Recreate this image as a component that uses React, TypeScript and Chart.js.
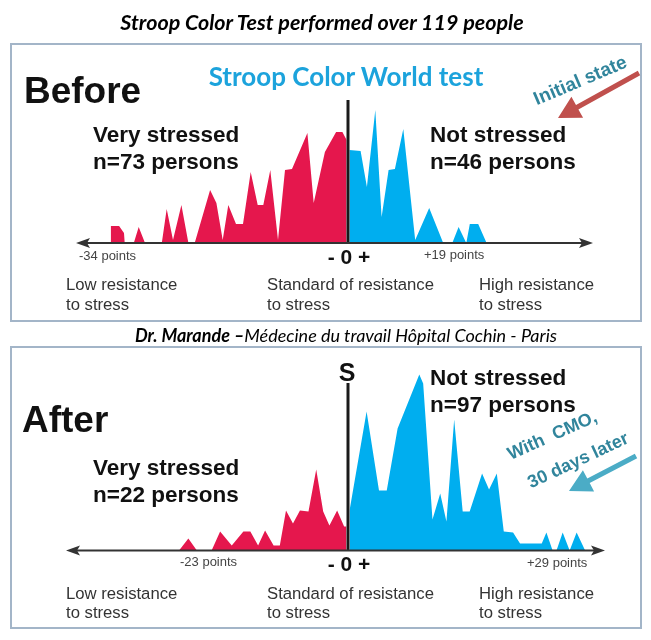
import React, { useEffect, useRef } from "react";
import { Chart, registerables } from "chart.js";

Chart.register(...registerables);

// ---------- DATA (score in points, relative frequency) ----------
// BEFORE (initial state)
const beforeLowScores = [-33.9, -33.9, -32.7, -32.0, -31.9, -30.6, -29.9, -29.0, -26.6, -25.9, -25.0, -23.8, -22.8, -21.9, -19.7, -18.8, -17.9, -17.1, -16.0, -15.0, -13.9, -12.9, -12.1, -11.1, -10.0, -9.0, -8.0, -5.8, -4.9, -3.3, -1.7, -0.8, -0.2, -0.2];
const beforeLowFreq = [0, 1.7, 1.7, 1.0, 0, 0, 1.6, 0, 0, 3.4, 0.3, 3.8, 0, 0, 5.3, 4.0, 0.3, 3.8, 1.9, 1.9, 7.1, 3.8, 3.8, 7.3, 0.3, 7.3, 7.4, 11.0, 4.0, 9.1, 11.1, 11.1, 10.3, 0];
const beforeHighScores = [0.2, 0.2, 1.8, 2.7, 3.9, 4.8, 5.8, 6.7, 7.9, 9.6, 11.6, 13.6, 14.9, 15.8, 16.9, 17.4, 18.6, 19.8];
const beforeHighFreq = [0, 9.3, 9.2, 5.6, 13.3, 2.6, 7.3, 7.4, 11.4, 0.3, 3.5, 0, 0, 1.6, 0, 1.9, 1.9, 0];

// AFTER (with CMO, 30 days later)
const afterLowScores = [-21.8, -20.6, -19.5, -17.6, -16.5, -15.0, -13.5, -12.6, -11.6, -10.7, -9.6, -8.8, -8.0, -7.1, -6.2, -5.1, -4.1, -3.2, -2.4, -1.4, -0.5, -0.2, -0.2];
const afterLowFreq = [0, 1.2, 0, 0, 1.9, 0.5, 1.9, 1.9, 0.5, 2.0, 0.5, 0.5, 4.0, 2.7, 4.0, 3.9, 8.1, 3.9, 2.5, 4.0, 2.4, 2.4, 0];
const afterHighScores = [0.2, 0.2, 2.4, 4.0, 5.0, 6.4, 9.2, 9.7, 10.9, 11.9, 12.7, 13.7, 14.8, 15.7, 17.3, 18.2, 19.2, 20.1, 21.3, 22.2, 25.0, 25.6, 26.4, 26.9, 27.7, 28.6, 29.5, 30.6];
const afterHighFreq = [0, 4.0, 13.9, 6.0, 6.0, 12.2, 17.6, 16.7, 3.1, 5.7, 2.9, 13.1, 3.9, 3.9, 7.7, 6.1, 7.7, 1.9, 1.8, 0.7, 0.7, 1.8, 0, 0, 1.8, 0, 1.8, 0];

// Labels
const mainTitle = "Stroop Color Test performed over 119 people";
const subTitle = "Stroop Color World test";
const creditBold = "Dr. Marande –";
const creditRest = "Médecine du travail Hôpital Cochin - Paris";
const beforeLowLabel = ["Very stressed", "n=73 persons"];
const beforeHighLabel = ["Not stressed", "n=46 persons"];
const afterLowLabel = ["Very stressed", "n=22 persons"];
const afterHighLabel = ["Not stressed", "n=97 persons"];
const beforeTicks = ["-34 points", "+19 points"];
const afterTicks = ["-23 points", "+29 points"];
const bottomLabels = [
  ["Low resistance", "to stress"],
  ["Standard of resistance", "to stress"],
  ["High resistance", "to stress"],
];

const RED = "#E5174D";
const BLUE = "#00AEEF";
const TEAL = "#31859C";

// ---------- LAYOUT ----------
type Panel = {
  left: number; top: number; width: number; height: number;
  zeroX: number; baseY: number; pxPerPoint: number; pxPerUnit: number;
  axisLeftPx: number; axisRightPx: number; lineTopPx: number;
};
const topPanel: Panel = { left: 60, top: 95, width: 552, height: 155, zeroX: 348, baseY: 243, pxPerPoint: 7, pxPerUnit: 10, axisLeftPx: 76, axisRightPx: 593, lineTopPx: 100 };
const botPanel: Panel = { left: 60, top: 360, width: 552, height: 198, zeroX: 348, baseY: 550.5, pxPerPoint: 7.75, pxPerUnit: 10, axisLeftPx: 66, axisRightPx: 605, lineTopPx: 383 };

const axisPlugin = {
  id: "stroopAxis",
  afterDatasetsDraw(chart: any, _args: any, opts: any) {
    const { ctx } = chart;
    const xs = chart.scales.x;
    const ys = chart.scales.y;
    const y0 = ys.getPixelForValue(0);
    const x0 = xs.getPixelForValue(0);
    const xl = xs.getPixelForValue(opts.axisMin);
    const xr = xs.getPixelForValue(opts.axisMax);
    const yt = ys.getPixelForValue(opts.lineTop);
    ctx.save();
    ctx.strokeStyle = "#1a1a1a";
    ctx.lineWidth = 3;
    ctx.beginPath();
    ctx.moveTo(x0, yt);
    ctx.lineTo(x0, y0);
    ctx.stroke();
    ctx.strokeStyle = "#333";
    ctx.lineWidth = 2;
    ctx.beginPath();
    ctx.moveTo(xl + 8, y0);
    ctx.lineTo(xr - 8, y0);
    ctx.stroke();
    ctx.fillStyle = "#333";
    ctx.beginPath();
    ctx.moveTo(xl, y0);
    ctx.lineTo(xl + 14, y0 - 5);
    ctx.lineTo(xl + 11, y0);
    ctx.lineTo(xl + 14, y0 + 5);
    ctx.closePath();
    ctx.fill();
    ctx.beginPath();
    ctx.moveTo(xr, y0);
    ctx.lineTo(xr - 14, y0 - 5);
    ctx.lineTo(xr - 11, y0);
    ctx.lineTo(xr - 14, y0 + 5);
    ctx.closePath();
    ctx.fill();
    ctx.restore();
  },
};

function toPts(xs: number[], ys: number[]) {
  return xs.map((x, i) => ({ x, y: ys[i] }));
}

function makeChart(canvas: HTMLCanvasElement, p: Panel, low: any[], high: any[]) {
  const xMin = (p.left - p.zeroX) / p.pxPerPoint;
  const xMax = (p.left + p.width - p.zeroX) / p.pxPerPoint;
  const yMin = (p.baseY - (p.top + p.height)) / p.pxPerUnit;
  const yMax = (p.baseY - p.top) / p.pxPerUnit;
  const ds = (data: any[], color: string) => ({
    data,
    fill: "origin",
    backgroundColor: color,
    borderColor: "rgba(0,0,0,0)",
    borderWidth: 0,
    pointRadius: 0,
    tension: 0,
  });
  return new Chart(canvas, {
    type: "line",
    data: { datasets: [ds(low, RED), ds(high, BLUE)] as any },
    options: {
      animation: false,
      responsive: false,
      maintainAspectRatio: false,
      events: [],
      layout: { padding: 0 },
      scales: {
        x: { type: "linear", min: xMin, max: xMax, display: false },
        y: { type: "linear", min: yMin, max: yMax, display: false },
      },
      plugins: {
        legend: { display: false },
        tooltip: { enabled: false },
        stroopAxis: {
          axisMin: (p.axisLeftPx - p.zeroX) / p.pxPerPoint,
          axisMax: (p.axisRightPx - p.zeroX) / p.pxPerPoint,
          lineTop: (p.baseY - p.lineTopPx) / p.pxPerUnit,
        },
      } as any,
    },
    plugins: [axisPlugin],
  });
}

function arrowPoly(tx: number, ty: number, hx: number, hy: number, shaft: number, headLen: number, headHalf: number) {
  const dx = hx - tx, dy = hy - ty;
  const L = Math.hypot(dx, dy);
  const ux = dx / L, uy = dy / L;
  const nx = -uy, ny = ux;
  const bx = hx - headLen * ux, by = hy - headLen * uy;
  const pts = [
    [tx + nx * shaft / 2, ty + ny * shaft / 2],
    [bx + nx * shaft / 2, by + ny * shaft / 2],
    [bx + nx * headHalf, by + ny * headHalf],
    [hx, hy],
    [bx - nx * headHalf, by - ny * headHalf],
    [bx - nx * shaft / 2, by - ny * shaft / 2],
    [tx - nx * shaft / 2, ty - ny * shaft / 2],
  ];
  return pts.map((q) => q[0].toFixed(1) + "," + q[1].toFixed(1)).join(" ");
}

const ARIAL = "'Liberation Sans', Arial, sans-serif";
const CALIBRI = "Lato, 'Open Sans', sans-serif";

export default function App() {
  const topRef = useRef<HTMLCanvasElement>(null);
  const botRef = useRef<HTMLCanvasElement>(null);

  useEffect(() => {
    const c1 = makeChart(topRef.current!, topPanel, toPts(beforeLowScores, beforeLowFreq), toPts(beforeHighScores, beforeHighFreq));
    const c2 = makeChart(botRef.current!, botPanel, toPts(afterLowScores, afterLowFreq), toPts(afterHighScores, afterHighFreq));
    return () => {
      c1.destroy();
      c2.destroy();
    };
  }, []);

  const canvasStyle = (p: Panel): React.CSSProperties => ({
    position: "absolute", left: p.left, top: p.top, width: p.width, height: p.height,
  });

  const big = { fontFamily: ARIAL, fontWeight: 700, fontSize: 22.5, fill: "#111" } as any;
  const small = { fontFamily: ARIAL, fontSize: 13, fill: "#444" } as any;
  const lab = { fontFamily: ARIAL, fontSize: 16.7, fill: "#333" } as any;
  const zero = { fontFamily: ARIAL, fontWeight: 700, fontSize: 21, fill: "#111" } as any;
  const note = { fontFamily: ARIAL, fontWeight: 700, fontSize: 18, fill: TEAL, whiteSpace: "pre" } as any;
  const labX = [66, 267, 479];

  return (
    <div style={{ position: "absolute", left: 0, top: 0, width: 651, height: 640, background: "#fff", overflow: "hidden" }}>
      <canvas ref={topRef} width={topPanel.width} height={topPanel.height} style={canvasStyle(topPanel)} />
      <canvas ref={botRef} width={botPanel.width} height={botPanel.height} style={canvasStyle(botPanel)} />
      <svg width={651} height={640} style={{ position: "absolute", left: 0, top: 0, pointerEvents: "none" }}>
        <rect x={11} y={44} width={630} height={277} fill="none" stroke="#A3B5C8" strokeWidth={2} />
        <rect x={11} y={347} width={630} height={281} fill="none" stroke="#A3B5C8" strokeWidth={2} />

        <text x={322} y={30} textAnchor="middle" style={{ fontFamily: CALIBRI, fontWeight: 700, fontStyle: "italic", fontSize: 21.5, fill: "#000" }}>{mainTitle}</text>
        <text x={346} y={342} textAnchor="middle" style={{ fontFamily: CALIBRI, fontStyle: "italic", fontSize: 18, fill: "#000" }}>
          <tspan style={{ fontWeight: 700 }}>{creditBold}</tspan>
          <tspan>{creditRest}</tspan>
        </text>

        {/* BEFORE panel */}
        <text x={346} y={86} textAnchor="middle" style={{ fontFamily: CALIBRI, fontWeight: 700, fontSize: 26, fill: "#1CA3DC" }}>{subTitle}</text>
        <text x={24} y={103} style={{ fontFamily: ARIAL, fontWeight: 700, fontSize: 37, fill: "#111" }}>Before</text>
        <text x={93} y={142} style={big}>{beforeLowLabel[0]}</text>
        <text x={93} y={169} style={big}>{beforeLowLabel[1]}</text>
        <text x={430} y={142} style={big}>{beforeHighLabel[0]}</text>
        <text x={430} y={169} style={big}>{beforeHighLabel[1]}</text>
        <text x={79} y={260} style={small}>{beforeTicks[0]}</text>
        <text x={424} y={259} style={small}>{beforeTicks[1]}</text>
        <text x={349} y={264} textAnchor="middle" style={zero}>- 0 +</text>
        {bottomLabels.map((l, i) => (
          <g key={"t" + i}>
            <text x={labX[i]} y={290} style={lab}>{l[0]}</text>
            <text x={labX[i]} y={310} style={lab}>{l[1]}</text>
          </g>
        ))}
        <text x={580} y={80} textAnchor="middle" dominantBaseline="central" transform="rotate(-23 580 80)" style={{ ...note, fontSize: 19 }}>Initial state</text>
        <polygon points={arrowPoly(639, 73, 558, 118, 5, 22, 12)} fill="#C0504D" />

        {/* AFTER panel */}
        <text x={22} y={432} style={{ fontFamily: ARIAL, fontWeight: 700, fontSize: 37, fill: "#111" }}>After</text>
        <text x={347} y={381} textAnchor="middle" style={{ fontFamily: ARIAL, fontWeight: 700, fontSize: 25, fill: "#111" }}>S</text>
        <text x={430} y={385} style={big}>{afterHighLabel[0]}</text>
        <text x={430} y={412} style={big}>{afterHighLabel[1]}</text>
        <text x={93} y={475} style={big}>{afterLowLabel[0]}</text>
        <text x={93} y={502} style={big}>{afterLowLabel[1]}</text>
        <text x={180} y={566} style={small}>{afterTicks[0]}</text>
        <text x={527} y={567} style={small}>{afterTicks[1]}</text>
        <text x={349} y={571} textAnchor="middle" style={zero}>- 0 +</text>
        {bottomLabels.map((l, i) => (
          <g key={"b" + i}>
            <text x={labX[i]} y={599} style={lab}>{l[0]}</text>
            <text x={labX[i]} y={618} style={lab}>{l[1]}</text>
          </g>
        ))}
        <text x={552} y={435} textAnchor="middle" dominantBaseline="central" transform="rotate(-24 552 435)" style={note}>{"With  CMO,"}</text>
        <text x={578} y={460} textAnchor="middle" dominantBaseline="central" transform="rotate(-25 578 460)" style={note}>30 days later</text>
        <polygon points={arrowPoly(636, 456, 569, 491, 5, 22, 12)} fill="#4BACC6" />
      </svg>
    </div>
  );
}
